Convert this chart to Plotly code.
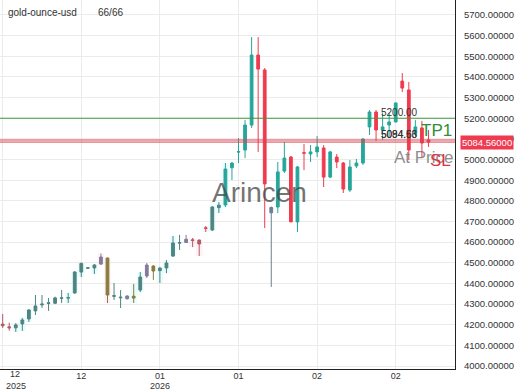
import plotly.graph_objects as go

# ---------------- data ----------------
candle_idx = list(range(66))
opens = [4203, 4190, 4185, 4204, 4228, 4267, 4296, 4303, 4304, 4328,
         4329, 4354, 4455, 4476, 4475, 4494, 4523, 4341, 4334, 4326,
         4329, 4368, 4436, 4460, 4462, 4475, 4533, 4595, 4598, 4611,
         4610, 4669, 4659, 4767, 4780, 4960, 5036, 5046, 5167, 5506,
         5434, 4742, 4770, 4944, 5012, 4698, 5033, 5027, 5037, 5056,
         4915, 5012, 4983, 4852, 4969, 4983, 5158, 5230, 5143, 5167,
         5182, 5380, 5337, 5124, 5153, 5095]
highs = [4252, 4210, 4208, 4233, 4276, 4344, 4344, 4329, 4336, 4368,
         4354, 4460, 4501, 4478, 4494, 4545, 4525, 4402, 4368, 4342,
         4397, 4455, 4499, 4489, 4480, 4513, 4630, 4635, 4635, 4620,
         4612, 4678, 4775, 4794, 4983, 4988, 5104, 5191, 5593, 5593,
         5443, 4772, 4988, 5085, 5017, 4969, 5075, 5070, 5114, 5070,
         5042, 5027, 4988, 4998, 5003, 5104, 5240, 5240, 5225, 5225,
         5276, 5419, 5376, 5191, 5187, 5143]
lows = [4184, 4171, 4165, 4170, 4213, 4247, 4281, 4267, 4300, 4305,
        4305, 4350, 4431, 4472, 4446, 4489, 4305, 4320, 4281, 4322,
        4305, 4358, 4426, 4417, 4402, 4450, 4528, 4562, 4596, 4576,
        4533, 4649, 4654, 4741, 4770, 4901, 4983, 5007, 5153, 5037,
        4668, 4383, 4741, 4935, 4698, 4649, 4949, 4988, 5012, 4867,
        4910, 4959, 4838, 4843, 4959, 4974, 5119, 5090, 5095, 5109,
        5180, 5327, 4998, 5114, 5007, 5061]
closes = [4195, 4185, 4199, 4223, 4271, 4291, 4300, 4306, 4330, 4330,
          4331, 4455, 4497, 4474, 4489, 4528, 4344, 4338, 4331, 4339,
          4338, 4431, 4489, 4484, 4474, 4499, 4596, 4598, 4614, 4608,
          4591, 4667, 4770, 4779, 4954, 4983, 5038, 5167, 5506, 5438,
          4882, 4768, 4940, 5007, 4698, 4964, 5031, 5037, 5061, 4915,
          5037, 4988, 4857, 4964, 4983, 5099, 5230, 5143, 5158, 5182,
          5274, 5346, 5046, 5158, 5080, 5084.56]
candle_tone = ["rd", "rd", "gd", "gd", "gd", "gd", "gd", "gd", "gd", "gd",
               "gd", "gd", "gd", "gd", "gd", "p", "o", "gd", "gd", "p",
               "o", "gd", "p", "o", "gd", "gd", "gd", "gd", "p", "rd",
               "rd", "r", "gd", "gd", "g", "g", "g", "g", "g", "r",
               "r", "gr", "g", "g", "r", "g", "r", "g", "g", "r",
               "g", "r", "r", "g", "g", "g", "g", "r", "g", "g",
               "g", "r", "r", "g", "r", "r"]
# faint zone highlight behind some candles: c = cyan, p = pink
zone = ["", "", "c", "c", "c", "", "", "", "", "",
        "c", "c", "c", "c", "c", "p", "p", "", "", "c",
        "c", "c", "", "", "c", "c", "c", "", "", "p",
        "p", "c", "c", "c", "c", "", "", "", "", "",
        "", "", "", "", "", "", "", "", "", "",
        "", "", "", "", "", "", "", "", "", "",
        "", "", "", "", "", ""]

tick_idx = [0, 12, 24, 36, 48, 60]
tick_text = ["", "12", "01", "01", "02", "02"]
first_tick_text = "12"
year_idx = [0, 24]
year_text = ["2025", "2026"]

y_ticks = [4000, 4100, 4200, 4300, 4400, 4500, 4600, 4700, 4800,
           4900, 5000, 5100, 5200, 5300, 5400, 5500, 5600, 5700]

tp_level = 5200.00
sl_levels = [5094.63, 5084.56]
last_price = 5084.56

symbol = "gold-ounce-usd"
count_text = "66/66"
watermark = "Arincen"

# ---------------- style ----------------
tone_colors = {
    "g": "#26a69a",
    "r": "#ef3b4f",
    "gd": "#4e8482",
    "rd": "#b35a62",
    "o": "#8a7a3c",
    "p": "#857a9c",
    "gr": "#6a7f90",
}
zone_colors = {"c": "rgba(0,235,235,0.09)", "p": "rgba(255,90,150,0.08)"}
FONT = "Liberation Sans, Arial, sans-serif"

fig = go.Figure()
for tone, col in tone_colors.items():
    sel = [i for i, t in enumerate(candle_tone) if t == tone]
    if not sel:
        continue
    fig.add_trace(go.Candlestick(
        x=[candle_idx[i] for i in sel],
        open=[opens[i] for i in sel],
        high=[highs[i] for i in sel],
        low=[lows[i] for i in sel],
        close=[closes[i] for i in sel],
        increasing=dict(line=dict(color=col, width=1), fillcolor=col),
        decreasing=dict(line=dict(color=col, width=1), fillcolor=col),
        showlegend=False, hoverinfo="skip",
    ))

shapes = []
for i, z in enumerate(zone):
    if z:
        shapes.append(dict(type="rect", xref="x", yref="y", layer="below",
                           x0=candle_idx[i] - 0.5, x1=candle_idx[i] + 0.5,
                           y0=lows[i], y1=highs[i], line=dict(width=0),
                           fillcolor=zone_colors[z]))
shapes.append(dict(type="line", xref="paper", x0=0, x1=1, yref="y",
                   y0=tp_level, y1=tp_level, line=dict(color="#3c9a3c", width=1)))
for lv in sl_levels:
    shapes.append(dict(type="line", xref="paper", x0=0, x1=1, yref="y",
                       y0=lv, y1=lv, line=dict(color="#d8404e", width=1)))

annotations = [
    dict(text=symbol, xref="paper", yref="paper", x=0, y=1, xanchor="left",
         yanchor="middle", xshift=6, yshift=-12, showarrow=False,
         font=dict(family=FONT, size=10, color="#333")),
    dict(text=count_text, xref="paper", yref="paper", x=0, y=1, xanchor="left",
         yanchor="middle", xshift=96, yshift=-12, showarrow=False,
         font=dict(family=FONT, size=10, color="#333")),
    dict(text=first_tick_text, xref="paper", yref="paper", x=0, y=0,
         xanchor="left", yanchor="top", xshift=8, yshift=2, showarrow=False,
         font=dict(family=FONT, size=9, color="#333")),
    dict(text=watermark, xref="paper", yref="paper", x=0.57, y=0.477,
         xanchor="center", yanchor="middle", showarrow=False,
         font=dict(family=FONT, size=28, color="rgba(70,70,70,0.75)")),
    dict(text=f"{tp_level:.2f}", xref="paper", yref="y", x=0.833, y=tp_level,
         xanchor="left", yanchor="bottom", yshift=-2, showarrow=False,
         font=dict(family=FONT, size=10, color="#333")),
    dict(text=f"{sl_levels[1]:.2f}", xref="paper", yref="y", x=0.833, y=sl_levels[0],
         xanchor="left", yanchor="bottom", yshift=-2, showarrow=False,
         font=dict(family=FONT, size=10, color="#333")),
    dict(text=f"{sl_levels[0]:.2f}", xref="paper", yref="y", x=0.833, y=sl_levels[0],
         xanchor="left", yanchor="bottom", yshift=-2, showarrow=False,
         font=dict(family=FONT, size=10, color="#333")),
    dict(text="TP1", xref="paper", yref="y", x=0.92, y=tp_level,
         xanchor="left", yanchor="top", yshift=-1, showarrow=False,
         font=dict(family=FONT, size=17, color="#2e8f3a")),
    dict(text="At Price", xref="paper", yref="y", x=0.862, y=last_price,
         xanchor="left", yanchor="top", yshift=-4, showarrow=False,
         font=dict(family=FONT, size=17, color="rgba(120,120,120,0.85)")),
    dict(text="SL", xref="paper", yref="y", x=0.94, y=last_price,
         xanchor="left", yanchor="top", yshift=-7, showarrow=False,
         font=dict(family=FONT, size=17, color="#e0303f")),
    dict(text=f"{last_price:.5f}", xref="paper", yref="y", x=1, y=last_price,
         xanchor="left", yanchor="middle", xshift=5, showarrow=False,
         bgcolor="#ef3b4f", borderpad=1,
         font=dict(family=FONT, size=9.5, color="white")),
    dict(text="5800.00000", xref="paper", yref="y", x=1, y=5800,
         xanchor="left", yanchor="middle", xshift=6, showarrow=False,
         font=dict(family=FONT, size=9.5, color="#333")),
]
for xi, yt in zip(year_idx, year_text):
    annotations.append(dict(
        text=yt, xref="x", yref="paper", x=xi, y=0, yanchor="top",
        xanchor="left" if xi == year_idx[0] else "center",
        xshift=1 if xi == year_idx[0] else 0, yshift=-10, showarrow=False,
        font=dict(family=FONT, size=9, color="#333")))

fig.update_layout(
    width=520, height=390,
    margin=dict(l=0, r=65, t=0, b=21),
    paper_bgcolor="white", plot_bgcolor="white",
    boxgap=0.4,
    shapes=shapes, annotations=annotations,
    font=dict(family=FONT, size=10, color="#333"),
    xaxis=dict(
        range=[-0.41, 69.05], rangeslider=dict(visible=False),
        tickmode="array", tickvals=tick_idx, ticktext=tick_text,
        showgrid=True, gridcolor="#ebebeb", gridwidth=1,
        showline=True, linecolor="#222", linewidth=1,
        ticks="", ticklabelstandoff=-2,
        tickfont=dict(family=FONT, size=9, color="#333"),
        zeroline=False, fixedrange=True, automargin=False,
    ),
    yaxis=dict(
        side="right", range=[3985.6, 5772.6],
        tickmode="array", tickvals=y_ticks,
        ticktext=[f"{v:.5f}" for v in y_ticks],
        showgrid=True, gridcolor="#ebebeb", gridwidth=1,
        showline=True, linecolor="#222", linewidth=1,
        ticks="outside", ticklen=6, tickcolor="rgba(0,0,0,0)",
        tickfont=dict(family=FONT, size=9.5, color="#333"),
        zeroline=False, fixedrange=True, automargin=False,
    ),
)

fig.write_html("out.html")
